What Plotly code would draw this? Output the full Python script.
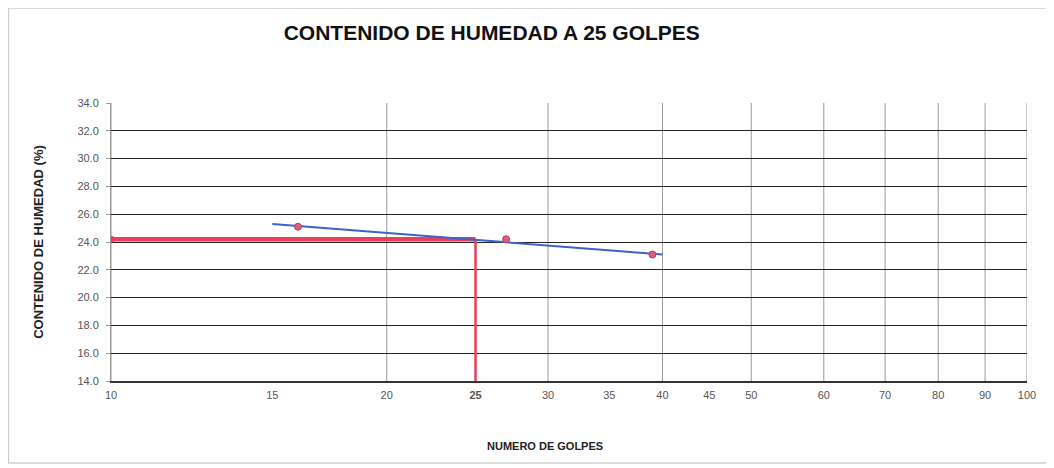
import plotly.graph_objects as go

# Data
golpes = [16, 27, 39]
humedad = [25.1, 24.2, 23.1]
trend_x = [15, 40]
trend_y = [25.3, 23.1]
ref_golpes = [10, 25, 25]
ref_humedad = [24.2, 24.2, 14.0]
x_ticks = [10, 15, 20, 25, 30, 35, 40, 45, 50, 60, 70, 80, 90, 100]
x_tick_text = ["10", "15", "20", "<b>25</b>", "30", "35", "40", "45", "50", "60", "70", "80", "90", "100"]
x_grid = [10, 20, 30, 40, 50, 60, 70, 80, 90, 100]
y_ticks = [14, 16, 18, 20, 22, 24, 26, 28, 30, 32, 34]

fig = go.Figure()

# vertical grid lines (gray) at major log positions
for gx in x_grid:
    fig.add_shape(type="line", xref="x", yref="y", x0=gx, x1=gx, y0=14, y1=34,
                  line=dict(color="#9a9a9a", width=1), layer="below")

# red reference lines
fig.add_trace(go.Scatter(x=ref_golpes[:2], y=ref_humedad[:2], mode="lines",
                         line=dict(color="#e8405c", width=4.5), showlegend=False, hoverinfo="skip"))
fig.add_trace(go.Scatter(x=ref_golpes[1:], y=ref_humedad[1:], mode="lines",
                         line=dict(color="#e8405c", width=2.5), showlegend=False, hoverinfo="skip"))
fig.add_trace(go.Scatter(x=[ref_golpes[0]], y=[ref_humedad[0]], mode="markers",
                         marker=dict(color="#e8405c", size=7), showlegend=False, hoverinfo="skip"))

# trend line
fig.add_trace(go.Scatter(x=trend_x, y=trend_y, mode="lines",
                         line=dict(color="#3d63c9", width=2), showlegend=False))

# data points
fig.add_trace(go.Scatter(x=golpes, y=humedad, mode="markers",
                         marker=dict(color="#d9607a", size=7, line=dict(color="#b04060", width=1)),
                         showlegend=False))

fig.update_xaxes(type="log", range=[1, 2], tickvals=x_ticks, ticktext=x_tick_text,
                 showgrid=False, zeroline=False, showline=True, linecolor="#333", linewidth=1.5,
                 ticks="", ticklabelstandoff=3,
                 tickfont=dict(family="Liberation Sans, Arial", size=11, color="#555"))
fig.update_yaxes(range=[14, 34], tickvals=y_ticks, tickformat=".1f",
                 showgrid=True, gridcolor="#222", gridwidth=1.3, zeroline=False,
                 showline=True, linecolor="#999", linewidth=1, ticks="outside", ticklen=4, tickcolor="#999",
                 ticklabelstandoff=5,
                 tickfont=dict(family="Liberation Sans, Arial", size=11, color="#555"),
                 title=dict(text="<b>CONTENIDO DE HUMEDAD (%)</b>", font=dict(family="Liberation Sans, Arial", size=13, color="#222"),
                            standoff=30))

# x-axis title as annotation (offset to the left, as in the original)
fig.add_annotation(text="<b>NUMERO DE GOLPES</b>", xref="paper", yref="paper", x=0.474, y=-0.234,
                   xanchor="center", yanchor="middle", showarrow=False,
                   font=dict(family="Liberation Sans, Arial", size=11, color="#222"))

# outer frame
fig.add_shape(type="rect", xref="paper", yref="paper", x0=-0.112, x1=1.0218, y0=-0.295, y1=1.342,
              line=dict(color="#cfcfcf", width=1.5), layer="below")

fig.update_layout(
    width=1054, height=468,
    margin=dict(l=103, r=35, t=95, b=95),
    paper_bgcolor="white", plot_bgcolor="white",
    title=dict(text="<b>CONTENIDO DE HUMEDAD A 25 GOLPES</b>", x=0.459, xanchor="center", y=0.947, yanchor="middle",
               font=dict(family="Liberation Sans, Arial", size=21, color="#111")),
)

fig.write_html("out.html")
